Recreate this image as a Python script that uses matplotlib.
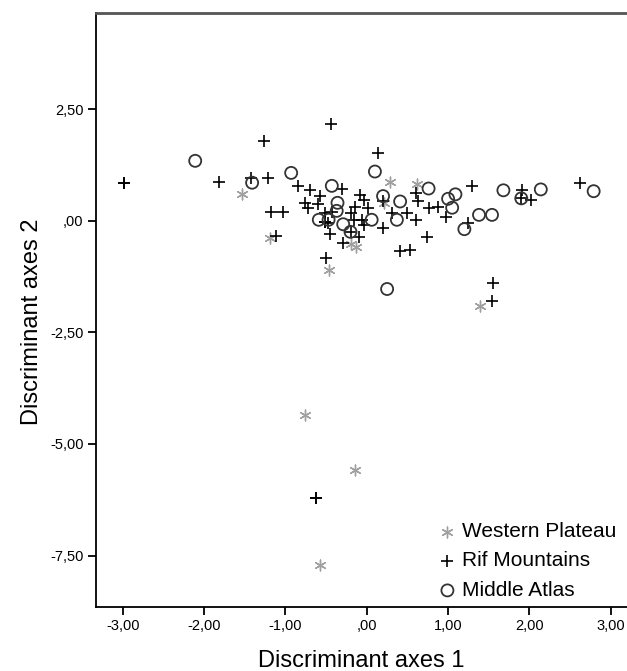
import matplotlib
matplotlib.use("Agg")
import matplotlib.pyplot as plt
from matplotlib.ticker import FuncFormatter

plt.rcParams['font.family'] = ['Liberation Sans', 'DejaVu Sans']

# Western Plateau (stars)
wp_x = [-1.54, -1.19, -0.46, 0.28, 0.62, 0.21, -0.20, -0.13, 1.39, -0.76, -0.14, -0.57]
wp_y = [0.59, -0.39, -1.10, 0.87, 0.82, 0.39, -0.52, -0.58, -1.91, -4.35, -5.58, -7.72]

# Rif Mountains (plus)
rif_x = [-2.99, -2.99, -1.82, -1.42, -1.22, -1.27, -0.44, -0.84, -0.70, -0.58,
         -0.76, -0.72, -0.60, -0.31, -1.18, -1.03, -1.12, -0.50, -0.51, -0.43,
         -0.51, -0.51, -0.48, -0.45, -0.29, -0.20, -0.10, -0.20, -0.14, -0.08,
         -0.04, 0.02, -0.16, -0.06, -0.04, 0.14, 0.20, 0.31, 0.49, 0.20,
         0.61, 0.61, 0.63, 0.77, 0.87, 0.74, 0.41, 0.53, 0.98, 1.25,
         1.29, 1.91, 1.90, 2.02, 2.62, 1.55, 1.54, -0.62, -0.62]
rif_y = [0.85, 0.85, 0.86, 0.96, 0.95, 1.78, 2.16, 0.78, 0.69, 0.55,
         0.39, 0.28, 0.37, 0.70, 0.20, 0.19, -0.34, -0.83, 0.17, 0.20,
         -0.02, -0.02, -0.06, -0.30, -0.49, -0.25, -0.36, 0.17, 0.31, 0.58,
         0.46, 0.28, 0.02, 0.02, -0.10, 1.51, 0.43, 0.17, 0.17, -0.17,
         0.02, 0.61, 0.43, 0.28, 0.30, -0.36, -0.69, -0.66, 0.09, -0.06,
         0.78, 0.69, 0.50, 0.46, 0.85, -1.40, -1.80, -6.20, -6.20]

# Middle Atlas (circles)
ma_x = [-2.11, -1.41, -0.93, -0.43, -0.36, -0.37, -0.59, -0.47, -0.29, -0.20,
        0.06, 0.10, 0.20, 0.41, 0.37, 0.76, 1.00, 1.09, 1.05, 1.38,
        1.54, 1.20, 1.68, 1.90, 2.14, 2.79, 0.25]
ma_y = [1.34, 0.85, 1.07, 0.78, 0.40, 0.22, 0.02, 0.02, -0.08, -0.25,
        0.02, 1.10, 0.55, 0.43, 0.02, 0.72, 0.49, 0.59, 0.29, 0.13,
        0.13, -0.19, 0.68, 0.50, 0.70, 0.66, -1.53]

x_ticks = [-3, -2, -1, 0, 1, 2, 3]
y_ticks = [2.5, 0, -2.5, -5, -7.5]


def spss_fmt(v, pos):
    s = f"{v:.2f}".replace('.', ',')
    if s.startswith('0'):
        s = s[1:]
    elif s.startswith('-0'):
        s = '-' + s[2:]
    return s


fig = plt.figure(figsize=(6.27, 6.71), dpi=100)
ax = fig.add_axes([96 / 627, 64 / 671, 531 / 627, 594 / 671])

ax.scatter(wp_x, wp_y, marker=(6, 2, 0), s=60, color='#a0a0a0', linewidths=1.0,
           label='Western Plateau', zorder=3)
ax.scatter(rif_x, rif_y, marker='+', s=65, color='black', linewidths=1.2,
           label='Rif Mountains', zorder=3)
ax.scatter(ma_x, ma_y, marker='o', s=75, facecolors='none', edgecolors='#333333',
           linewidths=1.3, label='Middle Atlas', zorder=3)

ax.set_xlim(-3.33, 3.20)
ax.set_ylim(-8.65, 4.65)
ax.set_xticks(x_ticks)
ax.set_yticks(y_ticks)
ax.xaxis.set_major_formatter(FuncFormatter(spss_fmt))
ax.yaxis.set_major_formatter(FuncFormatter(spss_fmt))
ax.tick_params(direction='out', length=6, width=1.3, labelsize=10.5, colors='black', pad=3)

ax.spines['right'].set_visible(False)
ax.spines['left'].set_linewidth(1.3)
ax.spines['bottom'].set_linewidth(1.3)
ax.spines['top'].set_linewidth(2.0)
ax.spines['top'].set_color('#555555')

ax.set_xlabel('Discriminant axes 1', fontsize=17, labelpad=12)
ax.set_ylabel('Discriminant axes 2', fontsize=17)
ax.yaxis.set_label_coords(-0.10, 0.48)

ax.legend(loc='lower right', bbox_to_anchor=(0.98, 0.012), frameon=False, fontsize=15,
          handletextpad=0.3, handlelength=0.8, labelspacing=0.5, borderaxespad=0,
          borderpad=0)

fig.savefig('out.png', dpi=100)
